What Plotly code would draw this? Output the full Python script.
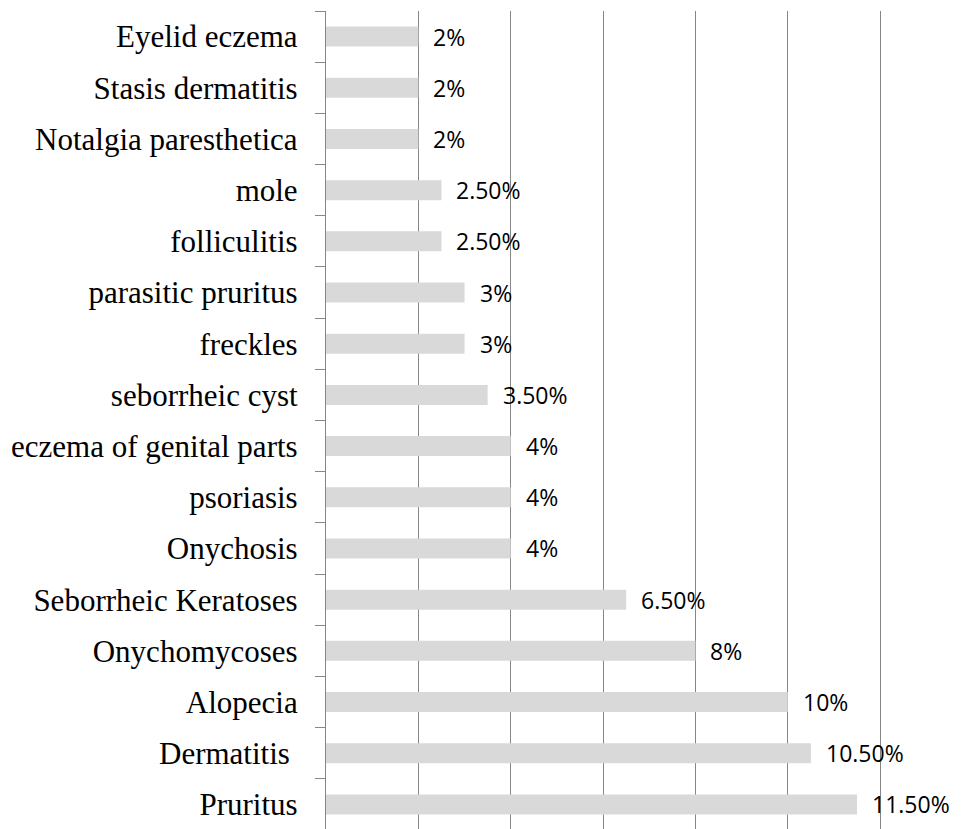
import plotly.graph_objects as go

categories = ["Eyelid eczema", "Stasis dermatitis", "Notalgia paresthetica", "mole",
              "folliculitis", "parasitic pruritus", "freckles", "seborrheic cyst",
              "eczema of genital parts", "psoriasis", "Onychosis", "Seborrheic Keratoses",
              "Onychomycoses", "Alopecia", "Dermatitis\u00a0", "Pruritus"]
values = [2, 2, 2, 2.5, 2.5, 3, 3, 3.5, 4, 4, 4, 6.5, 8, 10, 10.5, 11.5]
value_labels = ["2%", "2%", "2%", "2.50%", "2.50%", "3%", "3%", "3.50%", "4%", "4%",
                "4%", "6.50%", "8%", "10%", "10.50%", "11.50%"]

fig = go.Figure()
fig.add_trace(go.Bar(
    x=values, y=categories, orientation="h",
    marker=dict(color="#d9d9d9", line=dict(width=0)),
    width=0.39, hoverinfo="skip",
))

for c, v, t in zip(categories, values, value_labels):
    fig.add_annotation(x=v, y=c, text=t, showarrow=False, xanchor="left",
                       xshift=13, yshift=0,
                       font=dict(family="Open Sans", size=23, color="black"))

fig.update_layout(
    width=963, height=829,
    margin=dict(l=318, r=77, t=3, b=7),
    plot_bgcolor="white", paper_bgcolor="white",
    showlegend=False,
    xaxis=dict(range=[0, 12.3], tickvals=[2, 4, 6, 8, 10, 12], showticklabels=False,
               showgrid=True, gridcolor="#868686", gridwidth=1, zeroline=False,
               showline=False, fixedrange=True),
    yaxis=dict(autorange="reversed", showline=True, linecolor="#868686", linewidth=1.3,
               ticks="outside", tickson="boundaries", ticklen=10, tickcolor="#868686",
               tickwidth=1.3, showgrid=False, ticklabelstandoff=21, automargin=False,
               tickfont=dict(family="Liberation Serif", size=31, color="black")),
)

fig.write_html("out.html")
